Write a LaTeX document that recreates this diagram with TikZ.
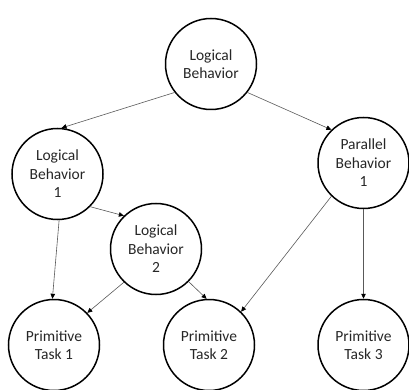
\documentclass[tikz,border=0pt]{standalone}
\usepackage{fontspec}
\setmainfont{Carlito}
\usetikzlibrary{arrows.meta}
\begin{document}
\begin{tikzpicture}[x=1pt,y=-1pt,
  bnode/.style={circle,draw=black,line width=1.5pt,minimum size=91pt,inner sep=0pt,align=center,font=\fontsize{15.5}{18.5}\selectfont,text=black!85},
  conn/.style={draw=black!65,line width=0.6pt,-{Triangle[length=5pt,width=4.5pt,fill=black,color=black]}}]
\useasboundingbox (0,0) rectangle (409,390);
\node[bnode] (top) at (211,64) {Logical\\Behavior};
\node[bnode] (lb1) at (57.5,174) {Logical\\Behavior\\1};
\node[bnode] (pb1) at (363.5,163) {Parallel\\Behavior\\1};
\node[bnode] (lb2) at (156,249) {Logical\\Behavior\\2};
\node[bnode] (pt1) at (54,345) {Primitive\\Task 1};
\node[bnode] (pt2) at (209,345) {Primitive\\Task 2};
\node[bnode] (pt3) at (363.5,345) {Primitive\\Task 3};
\draw[conn] (top.218) -- (lb1.85);
\draw[conn] (top.322) -- (pb1.134);
\draw[conn] (lb1.315) -- (lb2.134);
\draw[conn] (lb1.272) -- (pt1.92);
\draw[conn] (lb2.226) -- (pt1.44);
\draw[conn] (lb2.315) -- (pt2.93);
\draw[conn] (pb1.226) -- (pt2.46);
\draw[conn] (pb1.270) -- (pt3.90);
\end{tikzpicture}
\end{document}
